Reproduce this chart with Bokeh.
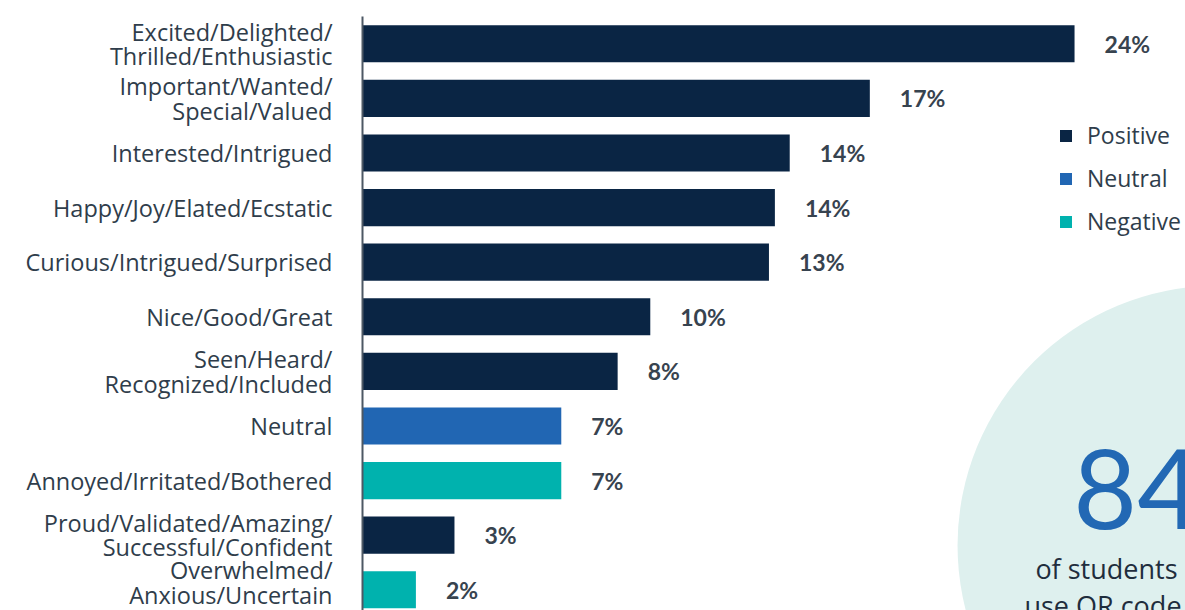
import pandas as pd
from bokeh.plotting import figure
from bokeh.models import ColumnDataSource, Range1d, FixedTicker, Legend, LegendItem, Label
from bokeh.core.properties import value
from bokeh.embed import file_html
from bokeh.resources import INLINE

# ---- data ----
categories = [
    "Excited/Delighted/\nThrilled/Enthusiastic",
    "Important/Wanted/\nSpecial/Valued",
    "Interested/Intrigued",
    "Happy/Joy/Elated/Ecstatic",
    "Curious/Intrigued/Surprised",
    "Nice/Good/Great",
    "Seen/Heard/\nRecognized/Included",
    "Neutral",
    "Annoyed/Irritated/Bothered",
    "Proud/Validated/Amazing/\nSuccessful/Confident",
    "Overwhelmed/\nAnxious/Uncertain",
]
values = [24.0, 17.1, 14.4, 13.9, 13.7, 9.7, 8.6, 6.7, 6.7, 3.1, 1.8]
value_labels = ["24%", "17%", "14%", "14%", "13%", "10%", "8%", "7%", "7%", "3%", "2%"]
sentiment = ["Positive", "Positive", "Positive", "Positive", "Positive", "Positive",
             "Positive", "Neutral", "Negative", "Positive", "Negative"]
sentiment_order = ["Positive", "Neutral", "Negative"]
sentiment_colors = {"Positive": "#0a2544", "Neutral": "#2166b3", "Negative": "#00b2ae"}

callout_number = "84"
callout_lines = ["of students", "use QR code"]

FONT = "Open Sans"
TEXT_COLOR = "#2f3d4b"

df = pd.DataFrame({
    "idx": list(range(len(categories))),
    "value": values,
    "label": value_labels,
    "sentiment": sentiment,
})
df["color"] = df["sentiment"].map(sentiment_colors)

p = figure(width=1185, height=610, output_backend="svg", toolbar_location=None,
           x_range=Range1d(0, 27.74), y_range=Range1d(10.38, -0.5),
           min_border_left=362, min_border_top=16, min_border_right=0, min_border_bottom=0)
p.outline_line_color = None
p.xgrid.visible = False
p.ygrid.visible = False
p.xaxis.visible = False

# circle callout (behind)
p.scatter(x=[28.82], y=[9.19], size=520, marker="circle",
          fill_color="#def0ee", line_color=None)

renderers = {}
for s in sentiment_order:
    src = ColumnDataSource(df[df["sentiment"] == s])
    renderers[s] = p.hbar(y="idx", left=0, right="value", height=0.68,
                          fill_color="color", line_color=None, source=src)

full = ColumnDataSource(df)
p.text(x="value", y="idx", text="label", source=full, x_offset=30,
       text_baseline="middle", text_align="left",
       text_font=value("Lato"), text_font_style="bold", text_font_size="23px",
       text_color="#37434f")

yax = p.yaxis[0]
yax.ticker = FixedTicker(ticks=list(range(len(categories))))
yax.major_label_overrides = {i: c for i, c in enumerate(categories)}
yax.major_tick_line_color = None
yax.minor_tick_line_color = None
yax.axis_line_color = "#4d5864"
yax.axis_line_width = 2
yax.major_label_standoff = 24
yax.major_label_text_font = FONT
yax.major_label_text_font_size = "23.5px"
yax.major_label_text_color = TEXT_COLOR
yax.major_label_text_line_height = 0.76

legend = Legend(items=[LegendItem(label=s, renderers=[renderers[s]]) for s in sentiment_order],
                location=(696, 373), orientation="vertical",
                glyph_width=15, glyph_height=15, label_standoff=14,
                label_height=20, spacing=11, padding=0, margin=0,
                border_line_color=None, background_fill_alpha=0,
                label_text_font=FONT, label_text_font_size="23px",
                label_text_color=TEXT_COLOR, label_text_baseline="middle")
p.add_layout(legend, "center")

p.add_layout(Label(x=23.96, y=8.16, text=callout_number, text_font="Lato",
                   text_font_size="110px", text_color="#2268b4",
                   text_baseline="alphabetic", text_align="left"))
p.add_layout(Label(x=22.68, y=9.61, text=callout_lines[0], text_font=FONT,
                   text_font_size="27px", text_color="#1f2d3d",
                   text_baseline="alphabetic", text_align="left"))
p.add_layout(Label(x=22.31, y=10.29, text=callout_lines[1], text_font=FONT,
                   text_font_size="27px", text_color="#1f2d3d",
                   text_baseline="alphabetic", text_align="left"))

open("out.html", "w").write(file_html(p, INLINE))
